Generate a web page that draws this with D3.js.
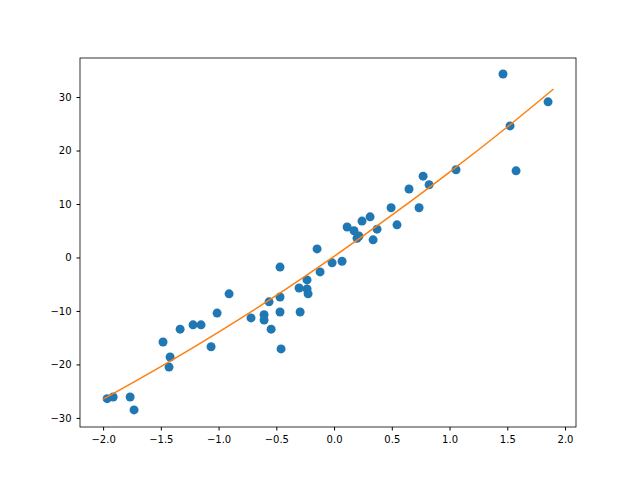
<!DOCTYPE html>
<html><head><meta charset="utf-8">
<script src="https://cdn.jsdelivr.net/npm/d3@7"></script>
<style>body{margin:0;background:#fff}text{font-family:"DejaVu Sans",sans-serif}</style>
</head><body><svg id="c" width="640" height="480"></svg>
<script>
const pointsX=[-1.965,-1.913,-1.766,-1.732,-1.481,-1.42,-1.429,-1.333,-1.221,-1.152,-1.065,-1.013,-0.909,-0.719,-0.606,-0.606,-0.563,-0.545,-0.468,-0.468,-0.468,-0.459,-0.303,-0.294,-0.234,-0.234,-0.225,-0.147,-0.121,-0.017,0.069,0.113,0.173,0.199,0.216,0.242,0.312,0.338,0.372,0.494,0.545,0.649,0.736,0.771,0.823,1.056,1.463,1.524,1.576,1.853];
const pointsY=[-26.4,-26.1,-26.1,-28.5,-15.8,-18.6,-20.5,-13.4,-12.6,-12.6,-16.7,-10.4,-6.8,-11.3,-10.7,-11.7,-8.3,-13.4,-1.8,-7.4,-10.2,-17.1,-5.7,-10.2,-4.2,-5.9,-6.8,1.6,-2.7,-1.0,-0.7,5.7,5.0,3.6,4.0,6.8,7.6,3.3,5.3,9.3,6.1,12.8,9.3,15.2,13.6,16.4,34.3,24.6,16.2,29.1];
const fitX=[-2,-1.5,-1,-0.5,0,0.5,1,1.5,1.9];
const fitY=[-26.5,-20.4,-13.95,-7.1,0.2,7.9,15.95,24.4,31.5];
const xTicks=[-2.0,-1.5,-1.0,-0.5,0.0,0.5,1.0,1.5,2.0];
const yTicks=[-30,-20,-10,0,10,20,30];
const svg=d3.select("#c");
const L=80,R=576,T=58,B=427;
const x=d3.scaleLinear().domain([-2.2,2.095]).range([L,R]);
const y=d3.scaleLinear().domain([-31.7,37.3]).range([B,T]);
svg.selectAll("circle").data(pointsX).join("circle")
 .attr("cx",(d)=>x(d)).attr("cy",(d,i)=>y(pointsY[i])).attr("r",4.5).attr("fill","#1f77b4");
const line=d3.line().curve(d3.curveCatmullRom).x(d=>x(d[0])).y(d=>y(d[1]));
svg.append("path").attr("d",line(fitX.map((v,i)=>[v,fitY[i]]))).attr("fill","none").attr("stroke","#ff7f0e").attr("stroke-width",1.5);
const xa=svg.append("g").attr("transform",`translate(0,${B})`).call(d3.axisBottom(x).tickValues(xTicks).tickFormat(d3.format(".1f")).tickSize(3.5).tickPadding(5));
const ya=svg.append("g").attr("transform",`translate(${L},0)`).call(d3.axisLeft(y).tickValues(yTicks).tickSize(3.5).tickPadding(5));
[xa,ya].forEach(a=>{a.select(".domain").remove();a.selectAll("text").attr("font-size",10).attr("fill","#000").style("font-family","DejaVu Sans");a.selectAll("line").attr("stroke","#000");});
ya.selectAll("text").text(d=>String(d).replace("-","\u2212"));
xa.selectAll("text").text(d=>d3.format(".1f")(d).replace("-","\u2212"));
svg.append("rect").attr("x",L).attr("y",T).attr("width",R-L).attr("height",B-T).attr("fill","none").attr("stroke","#000").attr("stroke-width",0.8);
</script></body></html>
